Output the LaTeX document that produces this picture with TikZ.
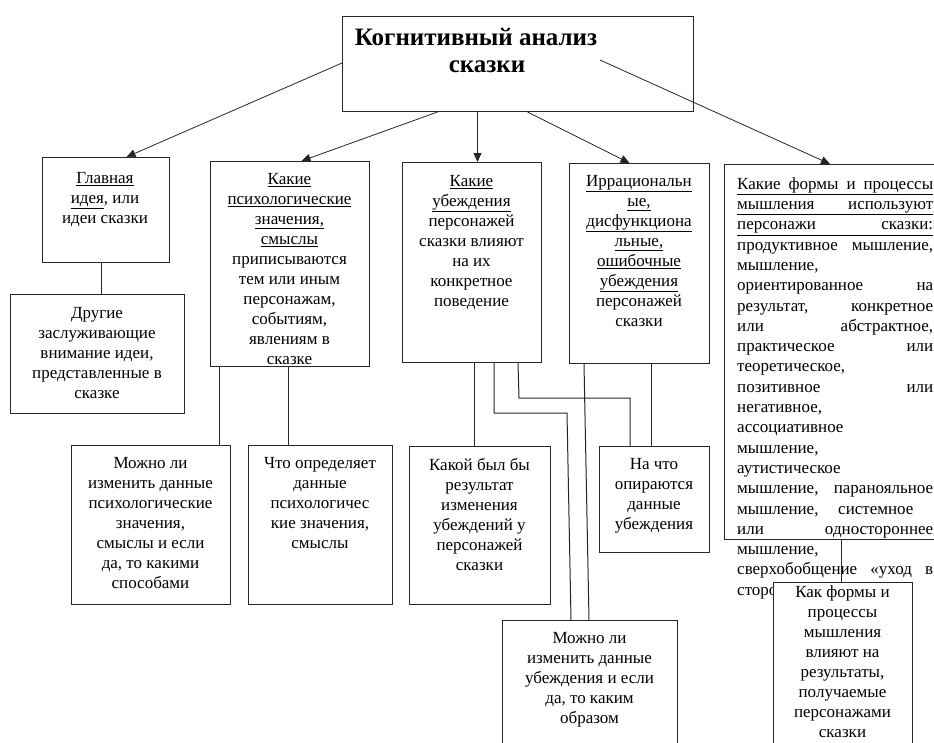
\documentclass[tikz,border=0pt]{standalone}
\usepackage{fontspec}
\setmainfont{Liberation Serif}
\usetikzlibrary{arrows.meta}
\newcommand{\myul}[1]{\underline{#1}}
\newcommand{\jl}[1]{\leavevmode\hbox to 196pt{#1}}
\tikzset{
  box/.style={draw=black!85, line width=1pt, fill=white, inner sep=0pt, anchor=north west, rectangle},
  txt/.style={inner sep=0pt, anchor=north, align=center, font=\fontsize{17}{20}\selectfont, execute at begin node={\rule{0pt}{14pt}}},
  ttl/.style={inner sep=0pt, anchor=base, font=\fontsize{25}{27}\selectfont\bfseries},
  arr/.style={draw=black!85, line width=0.8pt, -{Triangle[length=9pt,width=8pt]}},
  conn/.style={draw=black!85, line width=1pt}
}
\begin{document}
\begin{tikzpicture}[x=1pt,y=-1pt]
\useasboundingbox (0,0) rectangle (934,742);
\clip (0,0) rectangle (934,742);
\fill[white] (0,0) rectangle (934,742);

% boxes
\node[box, minimum width=351pt, minimum height=95pt] (top) at (342,16) {};
\node[box, minimum width=127pt, minimum height=105pt] (g) at (42,157) {};
\node[box, minimum width=174pt, minimum height=119pt] (d) at (10,294) {};
\node[box, minimum width=159pt, minimum height=205pt] (p) at (210,161) {};
\node[box, minimum width=139pt, minimum height=200pt] (u) at (402,162) {};
\node[box, minimum width=140pt, minimum height=200pt] (i) at (569,163) {};
\node[box, minimum width=230pt, minimum height=375pt] (f) at (724,164) {};
\node[box, minimum width=159pt, minimum height=159pt] (m1) at (71,445) {};
\node[box, minimum width=144pt, minimum height=159pt] (c) at (248,445) {};
\node[box, minimum width=141pt, minimum height=158pt] (k) at (409,446) {};
\node[box, minimum width=110pt, minimum height=106pt] (n) at (599,446) {};
\node[box, minimum width=175pt, minimum height=140pt] (m2) at (502,620) {};

% title
\node[ttl] (t1) at (476,45) {Когнитивный анализ};
\node[ttl] (t2) at (487,72) {сказки};

% texts
\node[txt] (gt) at (105,172) {\myul{Главная}\\\myul{идея}, или\\идеи сказки};
\node[txt] (dt) at (97,307) {Другие\\заслуживающие\\внимание идеи,\\представленные в\\сказке};
\begin{scope}
\clip (p.south west) rectangle (p.north east);
\node[txt] (pt) at (289.5,173) {\myul{Какие}\\\myul{психологические}\\\myul{значения,}\\\myul{смыслы}\\приписываются\\тем или иным\\персонажам,\\событиям,\\явлениям в\\сказке};
\end{scope}
\node[txt] (ut) at (471.5,175) {\myul{Какие}\\\myul{убеждения}\\персонажей\\сказки влияют\\на их\\конкретное\\поведение};
\node[txt] (it) at (639,175) {\myul{Иррациональн}\\\myul{ые,}\\\myul{дисфункциона}\\\myul{льные,}\\\myul{ошибочные}\\\myul{убеждения}\\персонажей\\сказки};
\node[txt] (m1t) at (150.5,457) {Можно ли\\изменить данные\\психологические\\значения,\\смыслы и если\\да, то какими\\способами};
\node[txt] (ct) at (320,457) {Что определяет\\данные\\психологичес\\кие значения,\\смыслы};
\node[txt] (kt) at (479.5,458) {Какой был бы\\результат\\изменения\\убеждений у\\персонажей\\сказки};
\node[txt] (nt) at (654,458) {На что\\опираются\\данные\\убеждения};
\node[txt] (m2t) at (589.5,632) {Можно ли\\изменить данные\\убеждения и если\\да, то каким\\образом};
\node[txt, anchor=north west, align=left, text width=196pt, font=\fontsize{17}{20.3}\selectfont] (ft) at (737,175) {%
\myul{\jl{Какие\hfill формы\hfill и\hfill процессы}}\\
\myul{\jl{мышления\hfill используют}}\\
\myul{\jl{персонажи\hfill сказки:}}\\
\jl{продуктивное\hfill мышление,}\\
мышление,\\
\jl{ориентированное\hfill на}\\
\jl{результат,\hfill конкретное}\\
\jl{или\hfill абстрактное,}\\
\jl{практическое\hfill или}\\
теоретическое,\\
\jl{позитивное\hfill или}\\
негативное,\\
ассоциативное\\
мышление,\\
аутистическое\\
\jl{мышление,\hfill паранояльное}\\
\jl{мышление,\hfill системное\hfill\hbox{}}\\
\jl{или\hfill одностороннее}\\
мышление,\\
\jl{сверхобобщение\hfill «уход\hfill в}\\
сторо};

\node[box, minimum width=139pt, minimum height=180pt] (h) at (773,582) {};
\node[txt] (ht) at (842.5,585) {Как формы и\\процессы\\мышления\\влияют на\\результаты,\\получаемые\\персонажами\\сказки};

% arrows
\draw[arr] ([yshift=-47pt]top.north west) -- ([xshift=20.5pt]g.north);
\draw[arr] ([xshift=-80.5pt]top.south) -- ([xshift=11.5pt]p.north);
\draw[arr] ([xshift=-40.5pt]top.south) coordinate (a3) -- (a3 |- u.north);
\draw[arr] ([xshift=9.5pt]top.south) -- ([xshift=-10pt]i.north);
\draw[arr] ([xshift=258pt,yshift=-44pt]top.north west) -- ([xshift=106pt]f.north west);

% connectors
\draw[conn] ([xshift=-4.5pt]g.south) coordinate (c1) -- (c1 |- d.north);
\draw[conn] ([xshift=9pt]p.south west) coordinate (c2) -- (c2 |- m1.north);
\draw[conn] ([xshift=78pt]p.south west) coordinate (c3) -- (c3 |- c.north);
\draw[conn] ([xshift=72pt]u.south west) coordinate (c4) -- (c4 |- k.north);
\draw[conn] ([xshift=92pt]u.south west) -- ++(0,50) -- ++(73,0) -- ([xshift=69pt]m2.north west);
\draw[conn] ([xshift=116pt]u.south west) -- ++(1,35) -- ++(111,0) coordinate (c5) -- (c5 |- n.north);
\draw[conn] ([xshift=15pt]i.south west) -- ([xshift=87pt]m2.north west);
\draw[conn] ([xshift=82pt]i.south west) coordinate (c6) -- (c6 |- n.north);
\draw[conn] ([xshift=117pt]f.south west) coordinate (c7) -- (c7 |- h.north);
\end{tikzpicture}
\end{document}
